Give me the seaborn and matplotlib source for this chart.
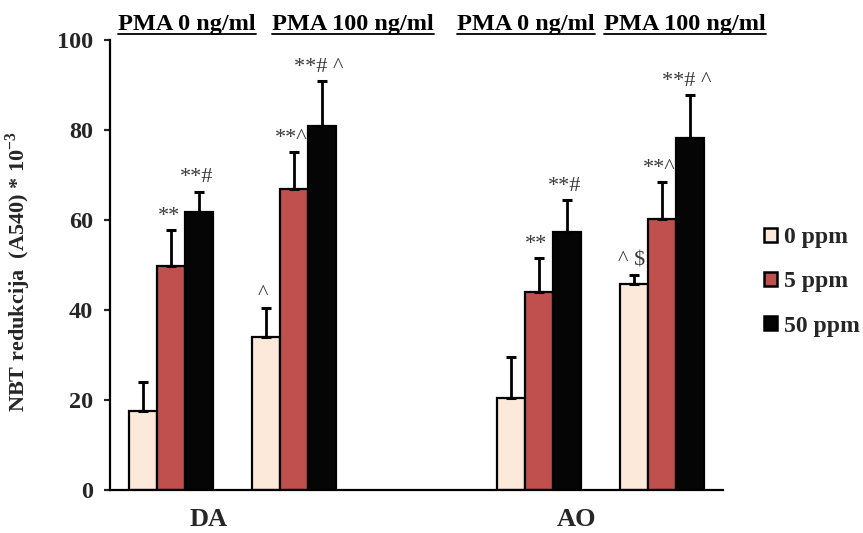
import matplotlib
matplotlib.use("Agg")
import numpy as np
import pandas as pd
import seaborn as sns
import matplotlib.pyplot as plt
from matplotlib.patches import Patch
from matplotlib.lines import Line2D

sns.set_theme(style="white")
plt.rcParams['font.family'] = ['Liberation Serif', 'DejaVu Serif']
plt.rcParams['mathtext.fontset'] = 'custom'
plt.rcParams['mathtext.rm'] = 'Liberation Serif:bold'
plt.rcParams['mathtext.bf'] = 'Liberation Serif:bold'

# data
groups = ["DA0", "DA100", "AO0", "AO100"]
doses = ["0 ppm", "5 ppm", "50 ppm"]
vals_0 = [17.6, 33.9, 20.5, 45.8]
vals_5 = [49.8, 66.9, 43.9, 60.2]
vals_50 = [61.8, 80.9, 57.4, 78.2]
err_0 = [6.4, 6.6, 9.1, 2.0]
err_5 = [8.0, 8.2, 7.7, 8.3]
err_50 = [4.5, 10.0, 7.0, 9.6]
signs_0 = ["", "^", "", "^ $"]
signs_5 = ["**", "**^", "**", "**^"]
signs_50 = ["**#", "**# ^", "**#", "**# ^"]
header_labels = ["PMA 0 ng/ml", "PMA 100 ng/ml", "PMA 0 ng/ml", "PMA 100 ng/ml"]
cell_labels = ["DA", "AO"]

order = ["DA0", "DA100", "gap", "AO0", "AO100"]
colors = {"0 ppm": "#FDE9D9", "5 ppm": "#C0504D", "50 ppm": "#050505"}

vals = {"0 ppm": vals_0, "5 ppm": vals_5, "50 ppm": vals_50}
errs = {"0 ppm": err_0, "5 ppm": err_5, "50 ppm": err_50}
signs = {"0 ppm": signs_0, "5 ppm": signs_5, "50 ppm": signs_50}

df = pd.DataFrame([(g, d, vals[d][i]) for d in doses for i, g in enumerate(groups)],
                  columns=["grupa", "doza", "vrijednost"])

fig = plt.figure(figsize=(8.63, 5.33), dpi=100)
ax = fig.add_axes([0.1275, 0.0807, 0.7105, 0.8443])

sns.barplot(data=df, x="grupa", y="vrijednost", hue="doza", order=order,
            hue_order=doses, palette=colors, saturation=1, width=0.684,
            errorbar=None, edgecolor="black", linewidth=1.6, legend=False, ax=ax)

# error bars (upward only) and significance marks
for cont, d in zip(ax.containers, doses):
    for bar in cont:
        xc = bar.get_x() + bar.get_width() / 2
        cat = order[int(round(xc))]
        if cat not in groups:
            continue
        gi = groups.index(cat)
        h = bar.get_height()
        e = errs[d][gi]
        ax.errorbar(xc, h, yerr=[[0], [e]], fmt="none", ecolor="black",
                    elinewidth=2, capsize=3.8, capthick=2.2, zorder=1)
        if signs[d][gi]:
            ax.annotate(signs[d][gi], (xc, h + e), xytext=(-2, 3),
                        textcoords="offset points", ha="center", va="bottom",
                        fontsize=16, color="#3a3a3a")

ax.set_xlim(-0.5, 4.5)
ax.set_ylim(0, 100)
ax.set_yticks(np.arange(0, 101, 20))
ax.set_xticks([0.3, 3.3], cell_labels)
ax.tick_params(axis="x", length=0, pad=13, labelsize=19)
ax.tick_params(axis="y", length=4, width=1.6, direction="out", left=True,
               pad=8, labelsize=17.5)
for lab in ax.get_xticklabels() + ax.get_yticklabels():
    lab.set_fontweight("bold")
sns.despine(ax=ax)
for s in ["left", "bottom"]:
    ax.spines[s].set_linewidth(1.6)
    ax.spines[s].set_color("black")

ax.set_xlabel("")
ax.set_ylabel(r"NBT redukcija  (A540) * 10$^{-3}$", fontsize=16,
              fontweight="bold")
ax.yaxis.set_label_coords(-0.125, 0.485)

# underlined headers
header_x = [0.13, 1.48, 2.89, 4.19]
hdrs = []
for hx, txt in zip(header_x, header_labels):
    hdrs.append(ax.text(hx, 1.035, txt, transform=ax.get_xaxis_transform(),
                        ha="center", va="center", fontsize=17.5,
                        fontweight="bold", color="black"))
fig.canvas.draw()
inv = fig.transFigure.inverted()
for t in hdrs:
    bb = t.get_window_extent()
    (x0, y0), (x1, y1) = inv.transform([[bb.x0, bb.y0 + 1], [bb.x1, bb.y0 + 1]])
    fig.add_artist(Line2D([x0, x1], [y0, y1], color="black", lw=1.3))

handles = [Patch(facecolor=colors[d], edgecolor="black", linewidth=1.8) for d in doses]
leg = ax.legend(handles, doses, loc="center left", bbox_to_anchor=(0.885, 0.471),
                bbox_transform=fig.transFigure, frameon=False, handlelength=0.55,
                handleheight=0.55, handletextpad=0.3, labelspacing=0.98,
                borderaxespad=0, borderpad=0,
                prop={"size": 17, "weight": "bold"})

fig.savefig("out.png", dpi=100)
